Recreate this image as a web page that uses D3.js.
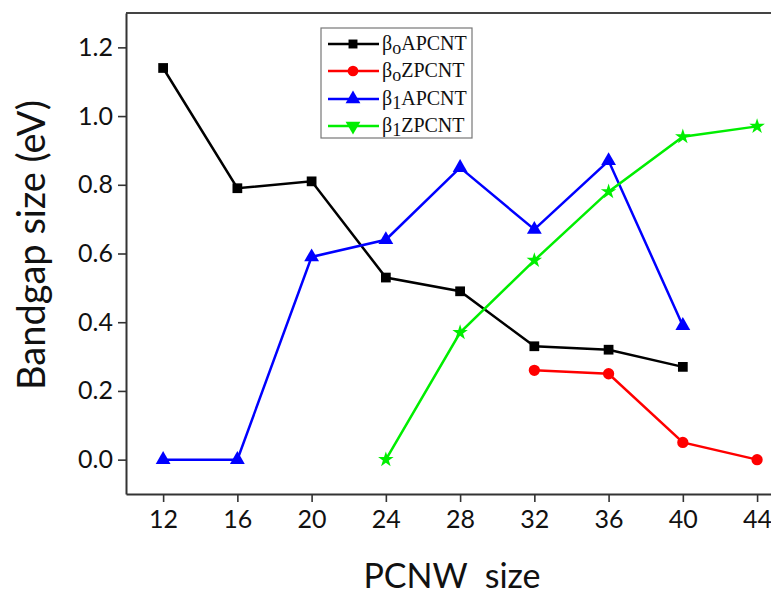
<!DOCTYPE html>
<html><head><meta charset="utf-8">
<script src="https://cdn.jsdelivr.net/npm/d3@7"></script>
<style>body{margin:0;background:#fff}svg{display:block}</style>
</head><body>
<script>
const sizes = [12, 16, 20, 24, 28, 32, 36, 40, 44];
const b0A_x = [12, 16, 20, 24, 28, 32, 36, 40];
const b0A_y = [1.14, 0.79, 0.81, 0.53, 0.49, 0.33, 0.32, 0.27];
const b0Z_x = [32, 36, 40, 44];
const b0Z_y = [0.26, 0.25, 0.05, 0.00];
const b1A_x = [12, 16, 20, 24, 28, 32, 36, 40];
const b1A_y = [0.00, 0.00, 0.59, 0.64, 0.85, 0.67, 0.87, 0.39];
const b1Z_x = [24, 28, 32, 36, 40, 44];
const b1Z_y = [0.00, 0.37, 0.58, 0.78, 0.94, 0.97];
const yTicks = [0, 0.2, 0.4, 0.6, 0.8, 1.0, 1.2];
const seriesNames = ["APCNT", "ZPCNT", "APCNT", "ZPCNT"];
const seriesSubs = ["o", "o", "1", "1"];

const W = 771, H = 597;
const svg = d3.select("body").append("svg").attr("width", W).attr("height", H);
const x = d3.scaleLinear().domain([10, 44.75]).range([126, 771]);
const y = d3.scaleLinear().domain([-0.1, 1.3]).range([494, 13]);

const font = "Lato, 'Open Sans', sans-serif";

// frame top line
svg.append("line").attr("x1", x(10)).attr("x2", W).attr("y1", y(1.3)).attr("y2", y(1.3))
  .attr("stroke", "#444").attr("stroke-width", 2);

const xa = svg.append("g").attr("transform", `translate(0,${y(-0.1)})`)
  .call(d3.axisBottom(x).tickValues(sizes).tickSizeInner(8).tickSizeOuter(0).tickPadding(8).tickFormat(d3.format("d")));
const ya = svg.append("g").attr("transform", `translate(${x(10)},0)`)
  .call(d3.axisLeft(y).tickValues(yTicks).tickSizeInner(8).tickSizeOuter(0).tickPadding(5).tickFormat(d3.format(".1f")));
[xa, ya].forEach(g => {
  g.select(".domain").attr("stroke", "#333").attr("stroke-width", 2);
  g.selectAll(".tick line").attr("stroke", "#333").attr("stroke-width", 1.6);
  g.selectAll("text").attr("font-family", font).attr("font-size", 25).attr("fill", "#111");
});

svg.append("text").attr("x", 452).attr("y", 588).attr("text-anchor", "middle")
  .attr("font-family", font).attr("font-size", 34).attr("fill", "#111")
  .attr("xml:space", "preserve").style("white-space", "pre").text("PCNW  size");
svg.append("text").attr("transform", "translate(45,245) rotate(-90)").attr("text-anchor", "middle")
  .attr("font-family", font).attr("font-size", 38).attr("fill", "#111").text("Bandgap size (eV)");

const series = [
  {xs: b0A_x, ys: b0A_y, color: "#000000", sym: d3.symbolSquare, size: 95},
  {xs: b0Z_x, ys: b0Z_y, color: "#ff0000", sym: d3.symbolCircle, size: 100},
  {xs: b1A_x, ys: b1A_y, color: "#0000ff", sym: d3.symbolTriangle, size: 95},
  {xs: b1Z_x, ys: b1Z_y, color: "#00ee00", sym: d3.symbolStar, size: 75}
];
const line = d3.line().x(d => x(d[0])).y(d => y(d[1]));
series.forEach(s => {
  const pts = s.xs.map((v, i) => [v, s.ys[i]]);
  svg.append("path").attr("d", line(pts)).attr("fill", "none")
    .attr("stroke", s.color).attr("stroke-width", 2.5);
  svg.selectAll(null).data(pts).enter().append("path")
    .attr("transform", d => `translate(${x(d[0])},${y(d[1])})`)
    .attr("d", d3.symbol().type(s.sym).size(s.size)).attr("fill", s.color);
});

// legend
const lg = svg.append("g");
lg.append("rect").attr("x", 321).attr("y", 28).attr("width", 151).attr("height", 110)
  .attr("fill", "#fff").attr("stroke", "#777").attr("stroke-width", 1.2);
const legSyms = [d3.symbolSquare, d3.symbolCircle, d3.symbolTriangle, d3.symbolTriangle];
const legSizes = [80, 90, 95, 95];
const legRot = [0, 0, 0, 180];
const rowsY = [44, 71, 99, 126];
series.forEach((s, i) => {
  const ry = rowsY[i];
  lg.append("line").attr("x1", 328).attr("x2", 379).attr("y1", ry).attr("y2", ry)
    .attr("stroke", s.color).attr("stroke-width", 2.5);
  lg.append("path").attr("transform", `translate(353,${ry}) rotate(${legRot[i]})`)
    .attr("d", d3.symbol().type(legSyms[i]).size(legSizes[i])).attr("fill", s.color);
  const t = lg.append("text").attr("x", 382).attr("y", ry + 6)
    .attr("font-family", "'Liberation Serif', 'Times New Roman', serif").attr("font-size", 20).attr("fill", "#111");
  t.append("tspan").text("β");
  t.append("tspan").attr("dy", 4).attr("font-size", 18).text(seriesSubs[i]);
  t.append("tspan").attr("dy", -4).text(seriesNames[i]);
});
</script>
</body></html>
